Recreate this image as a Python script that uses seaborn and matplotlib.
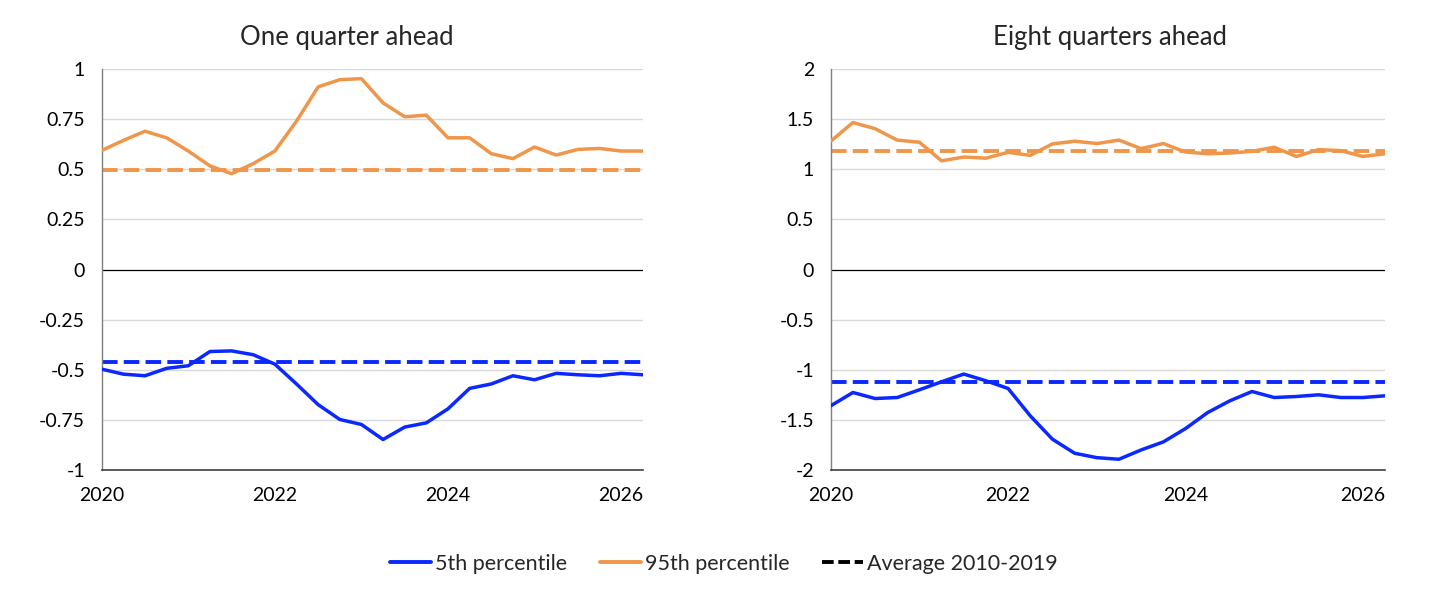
import pandas as pd
import numpy as np
import seaborn as sns
import matplotlib.pyplot as plt
from matplotlib.lines import Line2D
from matplotlib.ticker import FuncFormatter

# quarterly, 2020Q1 .. 2026Q2
quarters = pd.period_range('2020Q1', '2026Q2', freq='Q')

# one quarter ahead
p5_one = [-0.497, -0.522, -0.530, -0.493, -0.480, -0.409, -0.406, -0.425, -0.472, -0.571,
          -0.674, -0.748, -0.773, -0.848, -0.786, -0.765, -0.695, -0.593, -0.571, -0.530,
          -0.550, -0.518, -0.525, -0.530, -0.518, -0.525]
p95_one = [0.594, 0.644, 0.690, 0.657, 0.591, 0.517, 0.478, 0.528, 0.591, 0.740,
           0.911, 0.947, 0.952, 0.831, 0.762, 0.770, 0.657, 0.657, 0.578, 0.553,
           0.611, 0.571, 0.599, 0.604, 0.591, 0.591]
avg_p5_one = -0.462
avg_p95_one = 0.498

# eight quarters ahead
p5_eight = [-1.36, -1.227, -1.287, -1.277, -1.20, -1.12, -1.043, -1.11, -1.187, -1.46,
            -1.693, -1.833, -1.877, -1.893, -1.80, -1.72, -1.587, -1.427, -1.31, -1.217,
            -1.277, -1.267, -1.25, -1.277, -1.277, -1.26]
p95_eight = [1.280, 1.466, 1.405, 1.291, 1.270, 1.084, 1.122, 1.111, 1.169, 1.139,
             1.253, 1.280, 1.257, 1.291, 1.206, 1.257, 1.172, 1.155, 1.162, 1.179,
             1.220, 1.128, 1.196, 1.186, 1.128, 1.155]
avg_p5_eight = -1.127
avg_p95_eight = 1.186

titles = ['One quarter ahead', 'Eight quarters ahead']
x_ticks = [2020, 2022, 2024, 2026]
y_ticks_one = [1, 0.75, 0.5, 0.25, 0, -0.25, -0.5, -0.75, -1]
y_ticks_eight = [2, 1.5, 1, 0.5, 0, -0.5, -1, -1.5, -2]

blue = '#0A28FF'
orange = '#F0964B'

sns.set_style('white')
plt.rcParams['font.family'] = ['Lato', 'DejaVu Sans']

years = quarters.year + (quarters.quarter - 1) / 4


def make_df(p5, p95):
    return pd.DataFrame({
        'date': np.concatenate([years, years]),
        'value': p5 + p95,
        'series': ['5th percentile'] * len(p5) + ['95th percentile'] * len(p95),
    })


fig = plt.figure(figsize=(14.45, 6.02), dpi=100)
ax1 = fig.add_axes([0.0704, 0.2193, 0.3744, 0.666])
ax2 = fig.add_axes([0.5749, 0.2193, 0.3836, 0.666])

panels = [
    (ax1, make_df(p5_one, p95_one), avg_p5_one, avg_p95_one, y_ticks_one),
    (ax2, make_df(p5_eight, p95_eight), avg_p5_eight, avg_p95_eight, y_ticks_eight),
]

for i, (ax, df, a5, a95, yt) in enumerate(panels):
    for y in yt:
        if y != 0:
            ax.axhline(y, color='#D9D9D9', lw=1, zorder=0)
    ax.axhline(0, color='black', lw=0.9, zorder=1)
    ax.axhline(a95, color=orange, lw=2.8, dashes=(4, 1.6), zorder=2)
    ax.axhline(a5, color=blue, lw=2.8, dashes=(4, 1.6), zorder=2)
    sns.lineplot(data=df, x='date', y='value', hue='series',
                 palette=[blue, orange], lw=2.5, ax=ax, legend=False, zorder=3)
    ax.set_xlim(years[0], years[-1])
    ax.set_ylim(yt[-1], yt[0])
    ax.set_xticks(x_ticks)
    ax.set_yticks(yt)
    ax.yaxis.set_major_formatter(FuncFormatter(lambda v, p: '{:g}'.format(v)))
    ax.set_xlabel('')
    ax.set_ylabel('')
    ax.tick_params(axis='both', direction='in', length=5, width=1, labelsize=14,
                   colors='#595959', labelcolor='black', pad=12)
    for s in ['top', 'right']:
        ax.spines[s].set_visible(False)
    ax.spines['left'].set_color('#7F7F7F')
    ax.spines['bottom'].set_color('#404040')
    ax.spines['left'].set_linewidth(1)
    ax.spines['bottom'].set_linewidth(1.2)

fig.text(347 / 1445, 1 - 37 / 602, titles[0], ha='center', va='center', fontsize=18.5)
fig.text(1110 / 1445, 1 - 37 / 602, titles[1], ha='center', va='center', fontsize=18.5)

handles = [
    Line2D([], [], color=blue, lw=2.8),
    Line2D([], [], color=orange, lw=2.8),
    Line2D([], [], color='black', lw=2.8, dashes=(3, 1.2)),
]
fig.legend(handles, ['5th percentile', '95th percentile', 'Average 2010-2019'],
           loc='center', bbox_to_anchor=(724 / 1445, 1 - 564 / 602), ncol=3,
           frameon=False, fontsize=15.5, handlelength=1.9, handletextpad=0.2,
           columnspacing=1.5)

fig.savefig('out.png', dpi=100)
